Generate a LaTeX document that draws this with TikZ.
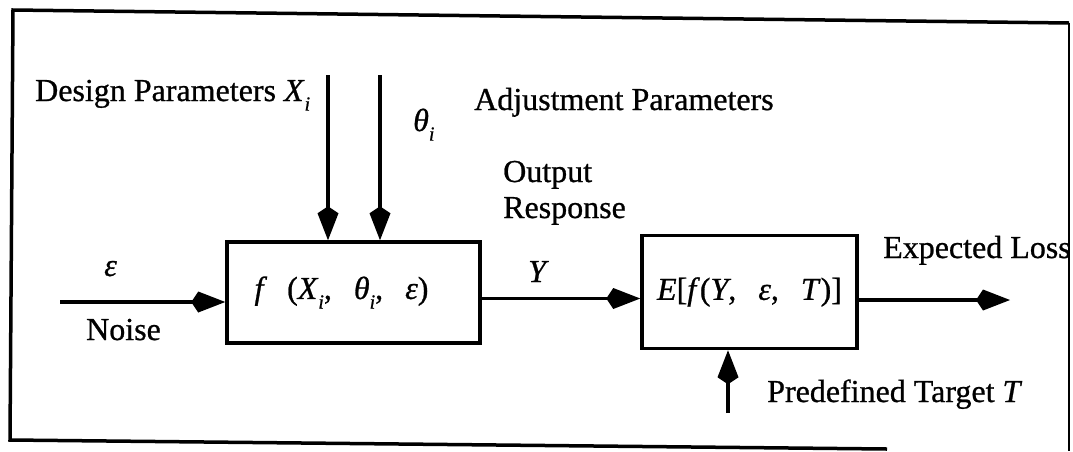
\documentclass[tikz,border=0pt]{standalone}
\usepackage{fontspec}
\setmainfont{Liberation Serif}[FakeBold=0.8]
\usetikzlibrary{arrows.meta}
\newcommand{\mysub}[1]{\raisebox{-0.3em}{\fontsize{20}{20}\selectfont\textit{#1}}}
\begin{document}
\begin{tikzpicture}[x=1pt,y=-1pt,
  lbl/.style={font=\fontsize{32}{38}\selectfont, inner sep=0pt, anchor=base west},
  blk/.style={draw, line width=3.5pt, inner sep=0pt, font=\fontsize{32}{38}\selectfont},
  arr/.style={line width=3.5pt, -{Kite[length=34pt,width=21pt,inset=7pt]}},
  frm/.style={line width=3.5pt}]
\useasboundingbox (0,0) rectangle (1073,451);
% outer frame (slightly skewed as in the scan)
\draw[frm] (887,449) -- (10,440) -- (13,10) -- (1069,23);
\draw[line width=2.5pt] (1069,23) -- (1069,451);
% blocks
\node[blk, minimum width=253pt, minimum height=101pt] (b1) at (353.5,292.5)
  {\textit{f}\hspace{20pt}(\textit{X}\mysub{i},\hspace{22pt}\textit{θ}\mysub{i},\hspace{22pt}\textit{ε})\hspace*{24pt}};
\node[blk, minimum width=215pt, minimum height=113pt] (b2) at (749.5,292)
  {\textit{E}[\textit{f}(\textit{Y},\hspace{22pt}\textit{ε},\hspace{22pt}\textit{T})]};
% connector end points
\coordinate (xs) at (328,75);
\coordinate (ts) at (380,75);
\coordinate (ns) at (60,302);
\coordinate (le) at (1010,300);
\coordinate (tg) at (728,413);
% connectors
\draw[arr] (xs) -- (xs |- b1.north);
\draw[arr] (ts) -- (ts |- b1.north);
\draw[arr] (ns) -- (ns -| b1.west);
\draw[arr] ([yshift=-6pt]b1.east) -- ([yshift=-6pt]b1.east -| b2.west);
\draw[arr] (b2.east |- le) -- (le);
\draw[arr] (tg) -- (tg |- b2.south);
% labels
\node[lbl] (ldp) at (35,101) {Design Parameters \textit{X}\mysub{i}};
\node[lbl] (lth) at (413,131) {\textit{θ}\mysub{i}};
\node[lbl] (lap) at (474,110) {Adjustment Parameters};
\node[lbl] (lou) at (503,182) {Output};
\node[lbl] (lre) at (503,218) {Response};
\node[lbl] (ly) at (528,282) {\textit{Y}};
\node[lbl] (leps) at (104,276) {\textit{ε}};
\node[lbl] (lno) at (86,340) {Noise};
\node[lbl] (lel) at (883,258) {Expected Loss};
\node[lbl] (lpt) at (767,402) {Predefined Target \textit{T}};
\end{tikzpicture}
\end{document}
